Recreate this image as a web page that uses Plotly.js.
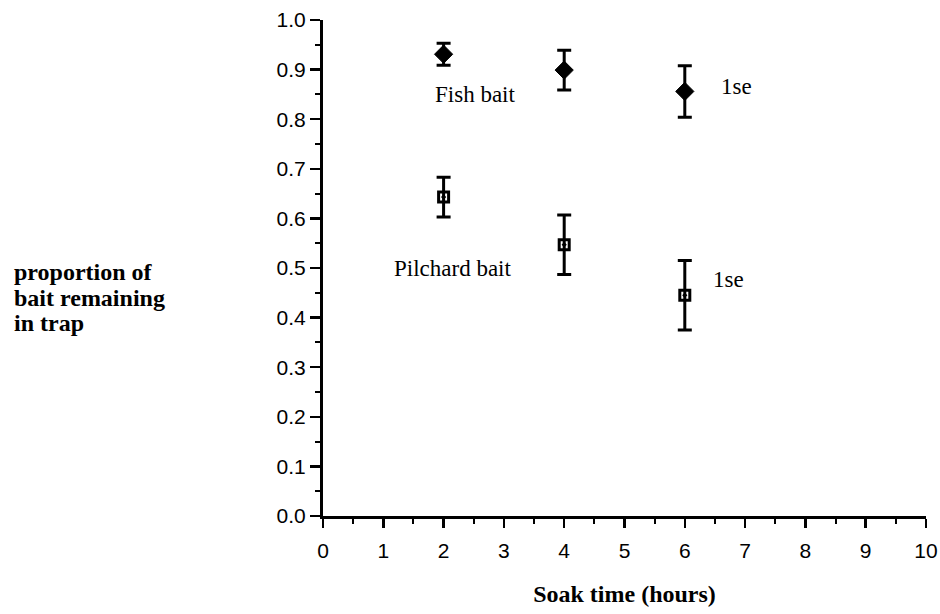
<!DOCTYPE html>
<html><head><meta charset="utf-8">
<script src="https://cdn.plot.ly/plotly-3.0.1.min.js"></script>
<style>html,body{margin:0;padding:0;background:#fff}#chart{width:940px;height:614px}</style>
</head><body><div id="chart"></div>
<script>
var soakTime = [2, 4, 6];
var fishMean = [0.931, 0.899, 0.856];
var fishSE = [0.022, 0.040, 0.052];
var pilchardMean = [0.643, 0.547, 0.445];
var pilchardSE = [0.040, 0.060, 0.070];
var xTicks = [0,1,2,3,4,5,6,7,8,9,10];
var yTicks = [0,0.1,0.2,0.3,0.4,0.5,0.6,0.7,0.8,0.9,1.0];
var yTickText = ['0.0','0.1','0.2','0.3','0.4','0.5','0.6','0.7','0.8','0.9','1.0'];
var yTitleLines = ['proportion of','bait remaining','in trap'];

var errStyle = {type:'data', visible:true, color:'#000', thickness:3, width:7};
var traces = [
  {x: soakTime, y: fishMean, type:'scatter', mode:'markers', name:'Fish bait',
   error_y: Object.assign({array: fishSE}, errStyle),
   marker:{symbol:'diamond', size:14, color:'#000', line:{color:'#000', width:1}}},
  {x: soakTime, y: pilchardMean, type:'scatter', mode:'markers', name:'Pilchard bait',
   error_y: Object.assign({array: pilchardSE}, errStyle),
   marker:{symbol:'square-open-dot', size:10, color:'#000', line:{color:'#000', width:3}}}
];
var serif = 'Liberation Serif, Times New Roman, serif';
var sans = 'Liberation Sans, Arial, Helvetica, sans-serif';
var annFont = {family:serif, size:23, color:'#000'};
var layout = {
  width: 940, height: 614,
  margin: {l:323, r:14, t:20, b:98},
  paper_bgcolor:'#fff', plot_bgcolor:'#fff',
  showlegend:false,
  font:{family:sans, color:'#000'},
  xaxis:{range:[0,10], tickvals:xTicks, ticktext:xTicks.map(String), showgrid:false, zeroline:false,
    showline:true, linecolor:'#000', linewidth:3, ticks:'outside', ticklen:9, tickwidth:2.5, tickcolor:'#000',
    tickfont:{family:sans, size:21, color:'#000'}, ticklabelstandoff:5,
    minor:{ticks:'outside', dtick:0.5, tick0:0, ticklen:5, tickwidth:2, tickcolor:'#000', showgrid:false},
    title:{text:'<b>Soak time (hours)</b>', font:{family:serif, size:24, color:'#000'}, standoff:24}},
  yaxis:{range:[0,1], tickvals:yTicks, ticktext:yTickText, showgrid:false, zeroline:false,
    showline:true, linecolor:'#000', linewidth:3, ticks:'outside', ticklen:10, tickwidth:2.5, tickcolor:'#000',
    tickfont:{family:sans, size:21, color:'#000'},
    minor:{ticks:'outside', dtick:0.05, tick0:0, ticklen:5, tickwidth:2, tickcolor:'#000', showgrid:false}},
  annotations:[
    {x:2.52, y:0.85, xref:'x', yref:'y', text:'Fish bait', showarrow:false, font:annFont},
    {x:6.85, y:0.866, xref:'x', yref:'y', text:'1se', showarrow:false, font:annFont},
    {x:2.14, y:0.50, xref:'x', yref:'y', text:'Pilchard bait', showarrow:false, font:annFont},
    {x:6.72, y:0.476, xref:'x', yref:'y', text:'1se', showarrow:false, font:annFont}
  ]
};
var titleYs = [272, 298, 323];
yTitleLines.forEach(function(t, i){
  layout.annotations.push({xref:'paper', yref:'paper', x:(12-323)/603, y:(516-titleYs[i])/496,
    xanchor:'left', yanchor:'middle', align:'left', text:'<b>'+t+'</b>', showarrow:false,
    font:{family:serif, size:24, color:'#000'}});
});
Plotly.newPlot('chart', traces, layout, {staticPlot:true});
</script></body></html>
